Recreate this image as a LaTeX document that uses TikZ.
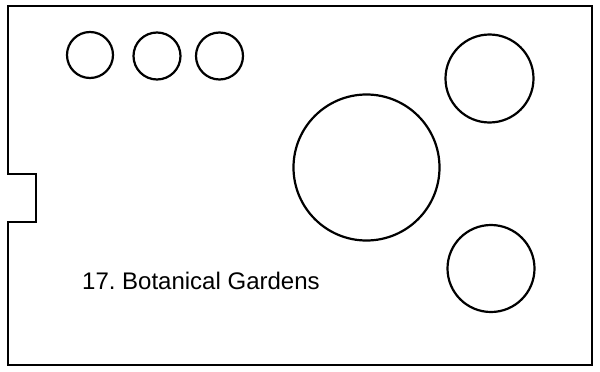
\documentclass[tikz,border=0pt]{standalone}
\usepackage{fontspec}
\setmainfont{Liberation Sans}
\begin{document}
\begin{tikzpicture}[x=1pt,y=-1pt,
  outline/.style={draw=black,line width=2.2pt,line join=miter},
  bed/.style={circle,draw=black,line width=2.2pt,inner sep=0pt,minimum size=#1}]
\useasboundingbox (0,0) rectangle (600,372);
\draw[outline] (8,6) -- (592,6) -- (592,365) -- (8,365) -- (8,222) -- (36,222) -- (36,174) -- (8,174) -- cycle;
\node[bed=46pt] (s1) at (90,55) {};
\node[bed=47pt] (s2) at (157,56) {};
\node[bed=47pt] (s3) at (219.5,56) {};
\node[bed=88pt] (tr) at (489.5,78.5) {};
\node[bed=146pt] (big) at (366.5,167.5) {};
\node[bed=87pt] (br) at (491,268.5) {};
\node[anchor=base west,inner sep=0pt,font=\fontsize{24pt}{26pt}\selectfont\frenchspacing] (lbl) at (82,289) {17. Botanical Gardens};
\end{tikzpicture}
\end{document}
